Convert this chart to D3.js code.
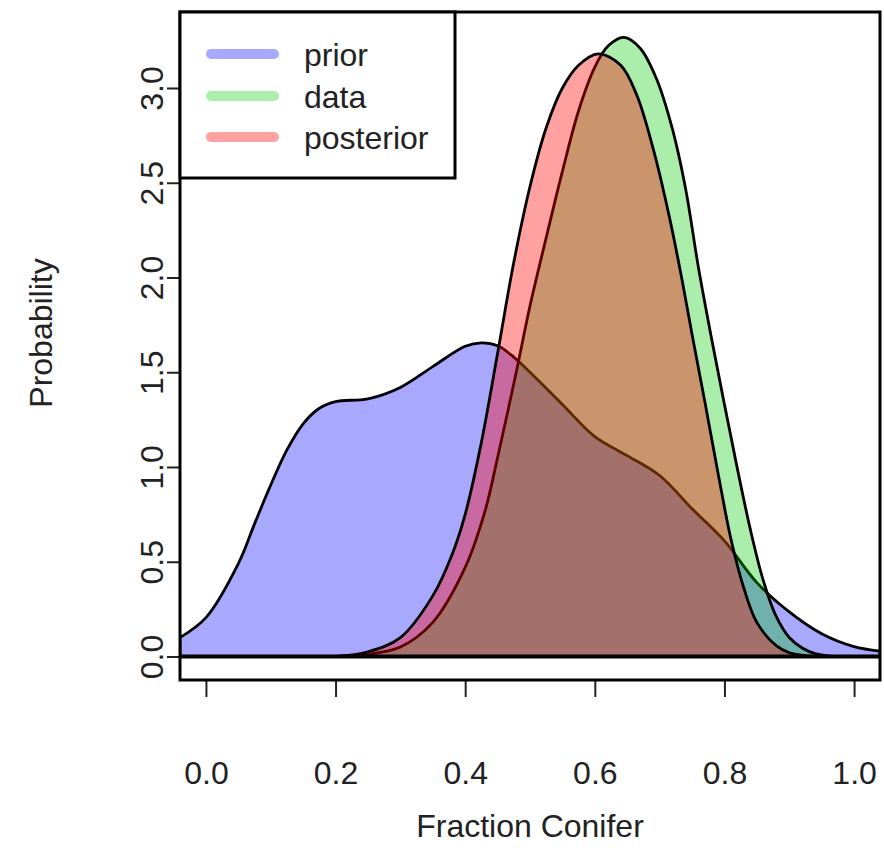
<!DOCTYPE html>
<html>
<head>
<meta charset="utf-8">
<script src="https://cdn.jsdelivr.net/npm/d3@7"></script>
<style>
  body { margin: 0; background: #fff; }
  svg text { font-family: "Liberation Sans", Arial, Helvetica, sans-serif; fill: #222; }
</style>
</head>
<body>
<div id="chart"></div>
<script>
// values
var priorX = [-0.04, 0.00, 0.05, 0.075, 0.10, 0.125, 0.15, 0.175, 0.20, 0.25, 0.30, 0.35, 0.40, 0.425, 0.45, 0.475, 0.50, 0.55, 0.60, 0.65, 0.70, 0.75, 0.80, 0.85, 0.90, 0.95, 1.00, 1.04];
var priorY = [0.10, 0.205, 0.49, 0.70, 0.905, 1.09, 1.228, 1.31, 1.345, 1.36, 1.42, 1.53, 1.637, 1.655, 1.64, 1.58, 1.50, 1.33, 1.16, 1.06, 0.955, 0.78, 0.61, 0.39, 0.235, 0.12, 0.052, 0.028];

var dataX = [0.20, 0.25, 0.30, 0.35, 0.40, 0.43, 0.45, 0.48, 0.50, 0.525, 0.55, 0.575, 0.60, 0.62, 0.645, 0.67, 0.695, 0.72, 0.74, 0.76, 0.78, 0.80, 0.82, 0.84, 0.86, 0.88, 0.90, 0.92, 0.94, 0.97];
var dataY = [0.0, 0.012, 0.05, 0.18, 0.47, 0.76, 1.05, 1.52, 1.85, 2.21, 2.56, 2.88, 3.11, 3.22, 3.267, 3.21, 3.05, 2.78, 2.47, 2.05, 1.68, 1.33, 0.99, 0.67, 0.40, 0.21, 0.10, 0.045, 0.015, 0.0];

var postX = [0.20, 0.25, 0.30, 0.35, 0.38, 0.40, 0.425, 0.45, 0.475, 0.50, 0.525, 0.55, 0.575, 0.605, 0.64, 0.665, 0.69, 0.715, 0.735, 0.75, 0.77, 0.79, 0.81, 0.83, 0.85, 0.88, 0.90, 0.94];
var postY = [0.0, 0.025, 0.10, 0.32, 0.54, 0.75, 1.13, 1.60, 2.08, 2.48, 2.79, 3.00, 3.12, 3.18, 3.12, 2.96, 2.68, 2.32, 1.98, 1.70, 1.34, 0.97, 0.62, 0.36, 0.18, 0.057, 0.02, 0.0];

var seriesNames = ["prior", "data", "posterior"];
var xTicks = [0.0, 0.2, 0.4, 0.6, 0.8, 1.0];
var yTicks = [0.0, 0.5, 1.0, 1.5, 2.0, 2.5, 3.0];

var colors = ["rgba(0,0,255,0.34)", "rgba(0,200,0,0.33)", "rgba(255,0,0,0.37)"];

var pLeft = 180, pRight = 880, pTop = 12, pBottom = 680;

var svg = d3.select("#chart")
    .append("svg")
    .attr("width", 884)
    .attr("height", 848);

var x = d3.scaleLinear().domain([-0.04, 1.04]).range([pLeft, pRight]);
var y = d3.scaleLinear().domain([-0.124, 3.401]).range([pBottom, pTop]);

svg.append("clipPath").attr("id", "plotclip")
    .append("rect")
    .attr("x", pLeft).attr("y", pTop)
    .attr("width", pRight - pLeft).attr("height", pBottom - pTop);

var plot = svg.append("g").attr("clip-path", "url(#plotclip)");

var area = d3.area()
    .x(function(d) { return x(d[0]); })
    .y0(y(0))
    .y1(function(d) { return y(d[1]); })
    .curve(d3.curveCatmullRom.alpha(0.5));

var curves = [d3.zip(priorX, priorY), d3.zip(dataX, dataY), d3.zip(postX, postY)];

curves.forEach(function(pts, i) {
    plot.append("path")
        .datum(pts)
        .attr("d", area)
        .attr("fill", colors[i])
        .attr("stroke", "#000")
        .attr("stroke-width", 2.8)
        .attr("stroke-linejoin", "round");
});

// abline at zero
plot.append("line")
    .attr("x1", pLeft).attr("x2", pRight)
    .attr("y1", y(0)).attr("y2", y(0))
    .attr("stroke", "#000")
    .attr("stroke-width", 4);

// axes
var xAxis = svg.append("g")
    .attr("transform", "translate(0," + pBottom + ")")
    .call(d3.axisBottom(x).tickValues(xTicks).tickSize(17).tickPadding(0)
        .tickFormat(d3.format(".1f")));
xAxis.select(".domain").remove();
xAxis.selectAll(".tick line").attr("stroke", "#222").attr("stroke-width", 2);
xAxis.selectAll(".tick text")
    .attr("y", 104).attr("dy", null)
    .attr("font-size", 32).attr("fill", "#222");

var yAxis = svg.append("g")
    .attr("transform", "translate(" + pLeft + ",0)")
    .call(d3.axisLeft(y).tickValues(yTicks).tickSize(13)
        .tickFormat(d3.format(".1f")));
yAxis.select(".domain").remove();
yAxis.selectAll(".tick line").attr("stroke", "#222").attr("stroke-width", 2);
yAxis.selectAll(".tick text")
    .attr("x", null).attr("dy", null)
    .attr("text-anchor", "middle")
    .attr("transform", "translate(-17,0) rotate(-90)")
    .attr("font-size", 32).attr("fill", "#222");

// box
svg.append("rect")
    .attr("x", pLeft).attr("y", pTop)
    .attr("width", pRight - pLeft).attr("height", pBottom - pTop)
    .attr("fill", "none")
    .attr("stroke", "#000")
    .attr("stroke-width", 3);

// axis titles
svg.append("text")
    .attr("x", 530).attr("y", 837)
    .attr("text-anchor", "middle")
    .attr("font-size", 32)
    .text("Fraction Conifer");

svg.append("text")
    .attr("transform", "translate(52,333) rotate(-90)")
    .attr("text-anchor", "middle")
    .attr("font-size", 32)
    .text("Probability");

// legend
var legend = svg.append("g");
legend.append("rect")
    .attr("x", pLeft).attr("y", pTop)
    .attr("width", 275).attr("height", 166)
    .attr("fill", "#fff")
    .attr("stroke", "#000")
    .attr("stroke-width", 3);

var legendY = [54, 96, 137];
seriesNames.forEach(function(name, i) {
    legend.append("line")
        .attr("x1", 211).attr("x2", 274)
        .attr("y1", legendY[i]).attr("y2", legendY[i])
        .attr("stroke", colors[i])
        .attr("stroke-width", 10)
        .attr("stroke-linecap", "round");
    legend.append("text")
        .attr("x", 304).attr("y", legendY[i] + 12)
        .attr("font-size", 32)
        .text(name);
});
</script>
</body>
</html>
